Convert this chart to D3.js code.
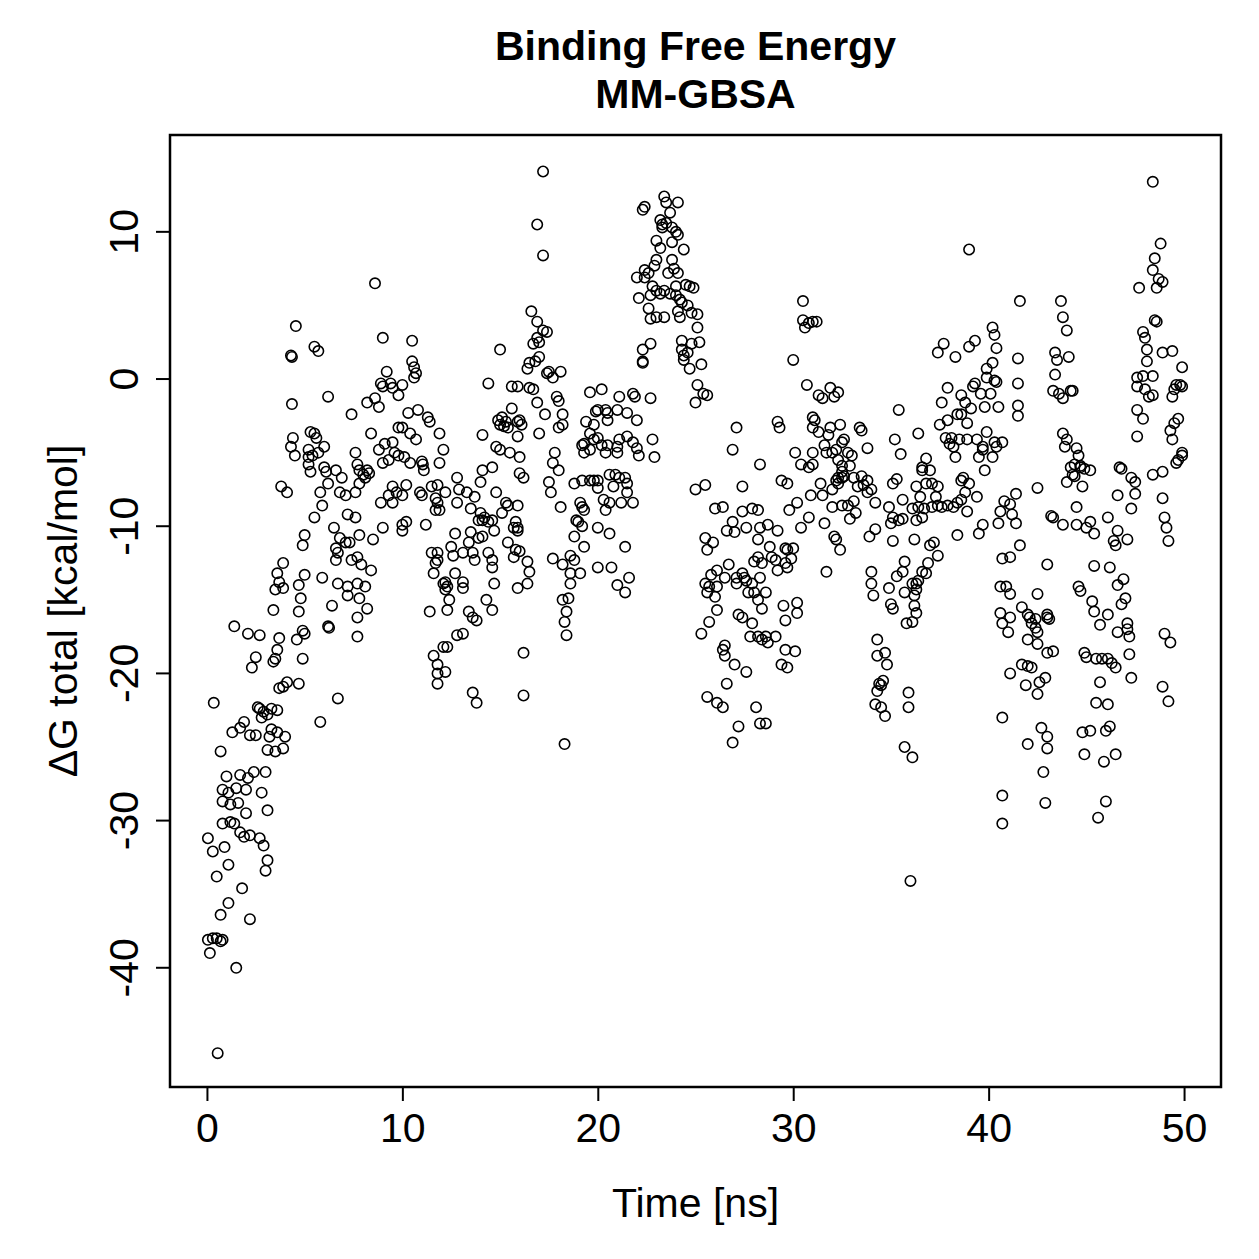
<!DOCTYPE html>
<html>
<head>
<meta charset="utf-8">
<script src="https://cdn.jsdelivr.net/npm/d3@7"></script>
<style>
  body { margin: 0; background: #fff; }
  text { font-family: "Liberation Sans", Arial, Helvetica, sans-serif; fill: #000; }
</style>
</head>
<body>
<svg id="chart" width="1259" height="1259"></svg>
<script>
// [time ns, dG kcal/mol], in 10 ns blocks
var seg00 = [[0.05,-31.2],[0.05,-38.1],[0.15,-39.0],[0.3,-38.0],[0.3,-32.1],[0.35,-22.0],[0.5,-38.0],[0.5,-33.8],[0.55,-45.8],[0.7,-38.2],[0.7,-36.4],[0.7,-25.3],[0.8,-38.1],[0.8,-27.9],[0.8,-28.7],[0.8,-30.2],[0.9,-31.8],[1.0,-27.0],[1.1,-28.1],[1.1,-33.0],[1.1,-35.6],[1.2,-28.9],[1.2,-30.1],[1.3,-24.0],[1.4,-16.8],[1.4,-30.2],[1.5,-27.8],[1.5,-40.0],[1.6,-28.8],[1.7,-26.9],[1.7,-23.7],[1.7,-30.8],[1.8,-34.6],[1.9,-23.3],[1.9,-31.1],[2.0,-27.9],[2.0,-29.5],[2.1,-17.3],[2.1,-27.1],[2.2,-24.2],[2.2,-31.0],[2.2,-36.7],[2.3,-19.6],[2.4,-26.7],[2.5,-18.9],[2.5,-24.2],[2.6,-22.3],[2.7,-22.4],[2.7,-17.4],[2.7,-31.2],[2.8,-23.0],[2.8,-28.1],[2.9,-22.6],[2.9,-31.7],[3.0,-26.7],[3.0,-33.4],[3.1,-22.8],[3.1,-25.2],[3.1,-29.3],[3.1,-32.7],[3.2,-24.3],[3.3,-23.8],[3.3,-22.4],[3.4,-19.2],[3.4,-15.7],[3.5,-19.0],[3.5,-14.3],[3.5,-25.3],[3.7,-17.6],[3.7,-21.0],[3.9,-20.9],[3.9,-25.1],
  [3.6,-13.2],[3.7,-13.8],[3.9,-12.5],[3.9,-14.2],[3.6,-18.4],[3.6,-22.5],[3.6,-24.0],[4.0,-24.3],[4.1,-20.6],[3.8,-7.3],[4.1,-7.7],
  [4.3,1.6],[4.35,1.5],[4.55,3.6],[4.35,-1.7],[4.4,-4.0],[4.3,-4.6],[4.5,-5.2],[4.9,-11.3],[5.0,-10.6],[5.0,-13.3],[4.7,-14.0],[4.8,-14.9],[4.7,-15.8],[4.9,-17.1],[5.0,-17.3],[4.6,-17.7],[4.9,-19.0],[4.7,-20.7],
  [5.5,2.2],[5.7,1.9],[5.3,-3.6],[5.5,-3.7],[5.6,-4.0],[5.2,-4.8],[5.2,-5.3],[5.4,-5.2],[5.7,-5.0],[6.0,-4.6],[5.2,-5.8],[5.3,-6.3],[6.0,-6.0],[6.1,-6.3],[6.6,-6.2],[6.9,-6.7],[5.8,-7.7],[6.2,-7.1],[5.9,-8.6],[5.5,-9.4],[5.9,-13.5],[5.8,-23.3],
  [6.2,-1.2],[6.8,-7.7],[7.1,-7.9],[6.5,-10.1],[6.8,-10.8],[7.1,-11.1],[7.3,-11.1],[6.6,-11.5],[6.7,-11.8],[6.6,-12.3],[6.7,-13.9],[6.4,-15.4],[6.2,-16.8],[6.25,-16.9],[6.7,-21.7],
  [7.4,-2.4],[7.6,-5.0],[7.8,-6.2],[8.0,-6.5],[7.6,-7.7],[7.2,-9.2],[7.6,-9.4],[7.8,-10.6],[7.4,-12.3],[7.9,-12.6],[7.2,-14.1],[7.7,-13.9],[7.2,-14.7],[7.8,-14.9],[7.7,-16.2],[7.7,-17.5],[7.7,-5.8],[7.8,-7.1],[7.7,-12.1],
  [8.2,-1.6],[8.6,6.5],[8.6,-1.3],[8.8,-1.9],[8.4,-3.7],[8.8,-4.8],[8.2,-6.2],[8.1,-6.7],[8.3,-6.4],[8.9,-8.4],[8.5,-10.9],[8.4,-13.0],[8.1,-14.1],[8.2,-15.6],[8.9,-0.3],[9.0,-0.5],[9.0,2.8],[9.2,0.5],[9.4,-0.3],[9.5,-0.6],[9.8,-1.1],[9.8,-3.3],[9.1,-4.4],[9.5,-4.3],[9.6,-5.0],[9.8,-5.2],[9.3,-5.5],[9.0,-5.7],[9.5,-7.3],[9.7,-7.7],[9.3,-7.9],[9.5,-8.4],[9.0,-10.1]];

var seg10 = [[10.0,-0.4],[10.5,2.6],[10.5,1.2],[10.6,0.8],[10.7,0.4],[10.6,0.1],[10.3,-2.3],[10.8,-2.1],[11.3,-2.6],[11.4,-2.9],[10.0,-3.3],[10.4,-3.7],[10.7,-4.1],[11.9,-3.7],[10.1,-5.3],[10.4,-5.7],[11.0,-5.6],[11.1,-6.2],[11.05,-5.8],[11.9,-5.7],[10.2,-7.2],[10.0,-7.9],[10.9,-7.7],[11.0,-7.9],[11.5,-7.3],[11.7,-8.1],[11.9,-8.9],[11.7,-8.9],[10.0,-9.9],[10.2,-9.7],[10.0,-10.3],[11.2,-9.9],[11.5,-11.8],[11.8,-11.8],[11.7,-12.5],[11.6,-13.2],[12.1,-13.9],[12.2,-14.3],[11.4,-15.8],[12.1,-18.2],[11.6,-18.8],[11.8,-19.4],[11.8,-20.0],
  [15.0,2.0],[14.4,-0.3],[15.6,-0.5],[15.6,-2.0],[14.9,-2.8],[15.1,-2.6],[15.3,-2.9],[15.2,-3.2],[15.4,-3.3],[15.0,-3.1],[15.9,-2.9],[15.9,-3.9],[14.8,-4.6],[15.0,-4.8],[15.5,-5.0],[14.1,-3.8],[16.0,-5.3],[16.0,-6.4],[16.2,-6.7],[12.1,-4.8],[12.8,-6.7],[14.1,-6.2],[14.6,-6.0],[14.0,-7.0],[11.8,-7.2],[12.2,-7.7],[11.8,-8.4],[12.9,-7.5],[13.3,-7.7],[13.7,-8.0],[12.8,-8.4],[13.5,-8.8],[14.8,-7.7],[15.3,-8.4],[15.4,-8.6],[15.1,-9.1],[15.8,-9.7],[15.7,-10.1],[15.4,-11.1],[14.0,-9.1],[14.1,-9.6],[14.4,-9.7],[13.9,-9.6],[14.2,-9.4],[14.6,-9.6],[14.7,-10.3],[12.7,-10.5],[13.5,-10.4],[13.4,-11.1],[13.9,-10.8],[14.1,-10.7],[12.5,-11.4],[11.8,-12.3],[12.6,-12.0],[13.1,-11.8],[13.6,-11.8],[13.7,-12.3],[14.4,-11.8],[14.6,-12.3],[14.6,-12.8],[14.7,-13.9],[15.8,-11.6],[15.7,-12.1],[12.2,-13.8],[12.3,-14.1],[13.1,-13.8],[13.1,-14.2],[12.7,-13.2],[12.4,-15.0],[12.3,-15.7],[14.3,-15.0],[14.6,-15.7],[15.9,-14.2],[13.4,-15.8],[13.6,-16.2],[13.8,-16.4],[12.8,-17.4],[13.1,-17.3],[12.3,-18.2],[16.2,-18.6],[12.2,-19.9],[11.8,-20.7],[13.6,-21.3],[13.8,-22.0],[16.2,-21.5],
  [17.2,14.1],[16.9,10.5],[17.2,8.4],[16.6,4.6],[16.9,3.9],[17.2,3.3],[17.4,3.2],[16.9,2.8],[16.7,2.4],[17.0,2.5],[16.5,1.1],[16.4,0.7],[16.8,1.2],[17.0,1.5],[17.5,0.5],[17.7,0.1],[18.1,0.5],[17.4,0.4],[16.5,-0.6],[16.7,-0.7],[16.9,-1.6],[17.3,-2.4],[17.9,-1.2],[18.0,-1.5],[18.2,-2.4],[18.2,-3.1],[18.0,-3.3],[15.9,-0.5],[16.0,-2.8],[16.1,-3.1],[17.0,-3.7],[17.8,-5.0],[17.7,-5.7],[18.0,-6.2],[17.5,-7.0],[17.6,-7.7],[18.1,-8.7],[15.9,-8.6],[15.9,-10.1],[15.9,-10.3],[16.0,-11.7],[16.4,-12.4],[16.5,-13.1],[16.4,-13.9],[17.7,-12.2],[18.2,-12.6],[18.6,-12.0],[18.8,-12.3],[18.6,-13.2],[19.1,-13.2],[18.6,-13.9],[18.2,-15.0],[18.5,-14.9],[18.4,-15.8],[18.3,-16.5],[18.4,-17.4],[18.3,-24.8],
  [19.6,-0.9],[19.9,-2.2],[19.4,-2.9],[19.8,-3.1],[19.6,-3.7],[19.2,-4.5],[19.3,-4.4],[19.8,-4.1],[19.6,-4.8],[19.3,-5.0],[18.8,-7.1],[19.2,-6.9],[19.6,-6.9],[19.8,-6.9],[19.1,-8.4],[19.2,-8.7],[19.3,-8.9],[18.9,-9.6],[19.0,-9.7],[19.2,-10.0],[18.8,-10.7],[19.3,-11.4]];

var seg20 = [[22.3,11.5],[22.4,11.7],[23.4,12.4],[23.5,12.0],[23.7,11.3],[24.1,12.0],[23.2,10.8],[23.3,10.5],[23.3,10.3],[23.5,10.6],[23.8,10.3],[24.0,10.0],[23.0,9.4],[23.2,8.9],[23.8,9.3],[24.1,9.8],[24.4,8.8],[23.0,8.1],[22.9,7.7],[23.8,8.1],[23.9,7.5],[23.6,7.2],[24.1,7.2],[22.4,7.4],[22.6,7.2],[22.0,6.9],[22.4,6.9],[22.8,6.3],[23.0,6.0],[23.2,5.8],[22.7,5.7],[22.1,5.5],[23.4,6.0],[23.7,5.8],[24.0,6.3],[24.0,5.7],[24.3,5.2],[22.6,4.8],[22.7,4.1],[23.0,4.2],[23.4,4.2],[24.1,4.6],[24.2,4.2],[22.7,2.4],[22.3,2.0],[22.3,1.2],[22.3,1.1],[24.3,2.6],[24.4,1.6],[24.4,1.3],
  [20.2,-0.7],[21.1,-1.2],[21.8,-1.0],[21.9,-1.2],[22.7,-1.3],[20.0,-2.1],[20.4,-2.1],[20.5,-2.8],[20.5,-2.3],[21.0,-2.1],[21.5,-2.3],[22.0,-2.8],[20.0,-4.0],[20.2,-4.5],[20.5,-4.5],[21.0,-4.6],[21.1,-4.1],[21.5,-3.9],[21.8,-4.3],[22.0,-4.7],[22.1,-5.2],[22.8,-4.1],[22.9,-5.3],[21.0,-5.0],[20.4,-5.0],[20.0,-6.9],[20.0,-7.4],[20.6,-6.5],[20.9,-6.5],[21.1,-6.7],[21.4,-6.7],[21.5,-7.1],[20.8,-7.3],[21.5,-7.7],[21.2,-8.4],[21.8,-8.4],[20.3,-8.2],[20.4,-8.9],[20.6,-8.4],[20.0,-10.1],[20.6,-10.5],[21.4,-11.4],[20.0,-12.8],[20.7,-12.8],[21.0,-14.0],[21.4,-14.5],[21.6,-13.5],
  [24.5,6.4],[24.7,6.3],[24.9,6.2],[24.2,5.4],[24.6,5.0],[24.8,4.5],[25.1,4.4],
  [25.1,3.5],[24.8,2.4],[25.2,2.5],[24.3,2.0],[24.6,1.8],[24.7,0.7],[25.3,1.0],[25.1,-0.4],[25.6,-1.1],[25.0,-1.6],[25.4,-1.0],[27.1,-3.3],[26.9,-4.8],[25.0,-7.5],[25.5,-7.2],[27.4,-7.3],[26.0,-8.8],[26.4,-8.7],[27.4,-9.0],[27.9,-8.8],[26.9,-9.7],[26.6,-10.3],[27.0,-10.4],[27.6,-10.1],[25.5,-10.8],[25.9,-11.1],[25.6,-11.6],[26.7,-12.6],[28.0,-12.4],[25.8,-13.3],[26.1,-13.0],[26.5,-13.5],[27.1,-13.5],[27.4,-13.2],[27.5,-13.5],[27.9,-13.9],[25.5,-13.9],[25.7,-14.1],[26.1,-14.1],[27.1,-13.9],[27.6,-13.7],[25.6,-14.5],[26.0,-14.8],[26.1,-15.7],[25.7,-16.5],[25.3,-17.3],[27.7,-14.5],[28.0,-14.5],[27.9,-16.6],[27.2,-16.0],[27.4,-16.2],[27.8,-17.5],[28.4,-17.7],[26.5,-18.1],[26.4,-18.4],[26.5,-18.8],[27.0,-19.4],[27.6,-19.9],[26.6,-20.7],[25.6,-21.6],[26.1,-22.0],[26.4,-22.3],[27.2,-23.6],[26.9,-24.7],
  [29.2,-2.9],[29.3,-3.3],[28.3,-5.8],[29.4,-6.9],[29.7,-7.1],[29.8,-8.9],[28.2,-8.9],[28.3,-10.1],[28.2,-10.9],[28.7,-9.9],[29.2,-10.3],[28.2,-12.1],[28.4,-12.5],[28.8,-11.4],[28.9,-12.1],[29.1,-12.3],[29.2,-13.0],[29.6,-11.5],[29.7,-11.6],[29.9,-12.2],[29.6,-12.5],[29.7,-12.8],[28.3,-13.5],[28.6,-14.5],[28.2,-15.0],[28.4,-15.6],[29.5,-15.4],[29.6,-16.4],[28.2,-17.5],[28.6,-17.5],[28.7,-17.9],[29.1,-17.5],[29.6,-18.4],[29.4,-19.4],[29.7,-19.6],[28.1,-22.3],[28.3,-23.4],[28.6,-23.4]];

var seg30 = [[30.5,5.3],[30.5,4.0],[30.8,3.8],[31.0,3.9],[30.6,3.5],[31.2,3.9],[30.0,1.3],[30.7,-0.4],[31.3,-1.1],[31.5,-1.3],[31.9,-0.6],[32.1,-1.2],[32.3,-0.9],[31.0,-2.6],[31.1,-2.8],[31.0,-3.3],[31.3,-3.6],[31.9,-3.3],[31.8,-3.8],[32.4,-3.1],[31.6,-4.5],[31.7,-5.0],[32.0,-5.0],[32.3,-5.5],[32.5,-4.3],[30.1,-5.0],[30.4,-5.8],[31.0,-5.0],[31.0,-5.8],[30.8,-6.0],[31.4,-7.1],[31.5,-7.9],[30.9,-7.9],[32.2,-6.9],[32.0,-7.5],[32.5,-6.3],[32.5,-6.7],[32.3,-7.1],[30.2,-8.4],[30.8,-9.4],[30.4,-10.1],[32.0,-8.7],[31.6,-9.8],[32.1,-10.7],[32.4,-11.6],[31.7,-13.1],[30.0,-11.5],[30.2,-15.2],[30.2,-15.9],[30.1,-18.5],
  [35.4,-2.1],[33.4,-3.3],[33.5,-3.5],[32.6,-4.1],[33.8,-4.7],[35.2,-4.1],[35.5,-5.1],[36.4,-3.7],[32.2,-4.8],[32.8,-5.0],[33.0,-5.2],[32.5,-5.9],[32.9,-5.9],[32.3,-6.7],[32.6,-6.6],[33.1,-6.7],[33.5,-6.6],[33.8,-6.9],[33.6,-7.2],[33.3,-7.3],[34.0,-7.5],[33.8,-7.7],[34.2,-8.4],[33.1,-8.3],[32.8,-8.6],[32.5,-8.6],[33.2,-9.1],[32.9,-9.5],[35.1,-7.1],[35.3,-6.8],[35.6,-8.2],[34.9,-8.7],[35.1,-9.4],[35.0,-9.8],[35.4,-9.6],[35.6,-9.5],[35.1,-11.0],[33.9,-10.7],[34.2,-10.2],[36.1,-8.8],[36.2,-10.9],[36.6,-6.0],[32.2,-10.9],[34.0,-13.1],[34.0,-13.9],[34.1,-14.7],[34.9,-14.2],[35.0,-15.3],[35.1,-15.6],[35.3,-13.4],[35.6,-13.1],[35.7,-12.4],[35.7,-14.5],[36.1,-13.9],[36.3,-13.9],[36.2,-14.7],[36.2,-15.4],[35.8,-16.6],[36.1,-16.5],[36.6,-13.1],[34.3,-17.7],[34.3,-18.8],[34.7,-18.6],[34.8,-19.4],[34.4,-20.7],[34.5,-20.8],[34.6,-20.5],[34.3,-21.2],[34.2,-22.1],[34.5,-22.3],[34.7,-22.9],[35.9,-21.3],[35.9,-22.3],[35.7,-25.0],[36.1,-25.7],[36.0,-34.1],
  [39.0,8.8],[37.7,2.4],[37.4,1.8],[38.3,1.5],[39.0,2.2],[39.3,2.6],[39.9,0.7],[39.9,0.1],[39.3,-0.3],[39.2,-0.5],[39.6,-1.0],[39.8,-1.9],[37.9,-0.6],[37.6,-1.6],[38.6,-1.1],[38.8,-1.6],[39.1,-2.0],[38.6,-2.4],[37.5,-3.1],[37.9,-2.8],[38.4,-2.4],[38.9,-3.0],[37.8,-4.0],[38.0,-4.4],[38.2,-4.6],[38.1,-4.0],[38.5,-4.1],[38.9,-4.1],[39.4,-4.1],[39.7,-4.6],[39.9,-3.6],[39.7,-4.8],[39.5,-5.3],[39.8,-6.2],[38.3,-5.3],[36.8,-5.4],[36.6,-6.2],[37.0,-6.2],[36.8,-7.1],[37.1,-7.1],[37.4,-7.3],[37.3,-8.0],[36.3,-7.3],[36.5,-8.0],[36.4,-8.7],[36.7,-8.8],[37.1,-8.7],[37.4,-8.6],[37.6,-8.7],[36.6,-9.4],[36.3,-9.6],[37.9,-8.6],[38.2,-8.7],[38.4,-8.4],[38.6,-8.2],[38.8,-7.7],[39.0,-7.1],[38.7,-6.7],[38.6,-6.9],[38.9,-9.0],[39.4,-8.0],[39.7,-9.9],[39.5,-10.5],[38.4,-10.6],[37.2,-11.1],[37.0,-11.3],[37.4,-12.0],[36.9,-12.5],[36.8,-13.2],[36.4,-13.7],[36.3,-14.3],[36.3,-15.9]];

var seg40 = [[40.2,3.5],[40.3,3.0],[40.4,2.1],[40.2,1.1],[40.3,-0.1],[40.1,-1.0],[40.4,-0.2],[40.5,-1.9],[40.2,-5.3],[40.3,-4.3],[40.7,-4.3],[40.5,-9.8],[40.6,-14.1],[40.6,-15.9],[40.7,-16.6],[40.7,-12.2],[40.7,-23.0],
  [41.6,5.3],[43.7,5.3],[43.8,4.2],[44.0,3.3],[41.5,1.4],[41.5,-0.3],[41.5,-1.8],[41.5,-2.5],[43.4,1.8],[43.5,1.3],[44.1,1.5],[43.4,0.3],[43.3,-0.8],[43.6,-1.0],[43.8,-1.3],[44.2,-0.8],[44.3,-0.8],[43.8,-3.7],[44.0,-4.1],[43.9,-4.6],[44.6,-5.2],[44.4,-5.8],[44.2,-6.0],[44.7,-5.9],[44.3,-6.5],[44.4,-6.6],[44.0,-7.0],[40.4,-4.6],[42.5,-7.4],[41.4,-7.8],[40.8,-8.3],[41.1,-8.5],[41.2,-9.2],[41.4,-9.8],[40.6,-9.0],[43.2,-9.3],[43.3,-9.4],[43.8,-9.9],[44.5,-9.9],[41.6,-11.3],[41.1,-12.1],[43.0,-12.6],[40.9,-14.1],[41.1,-14.6],[42.5,-14.6],[44.7,-14.4],[41.1,-16.2],[41.0,-17.2],[41.7,-15.5],[42.0,-16.0],[42.1,-16.2],[42.2,-16.6],[42.4,-16.3],[42.4,-16.9],[42.5,-17.2],[43.0,-16.0],[43.1,-16.3],[43.0,-16.2],[42.0,-17.7],[42.5,-18.0],[43.0,-18.6],[43.3,-18.5],[41.7,-19.4],[42.0,-19.5],[42.2,-19.6],[41.1,-20.0],[41.9,-20.8],[42.6,-20.6],[42.9,-20.3],[42.5,-21.4],[42.7,-23.7],[42.0,-24.8],[43.0,-25.1],[43.0,-24.3],[42.8,-26.7],[40.7,-28.3],[40.7,-30.2],[42.9,-28.8],[44.8,-24.0],
  [48.4,13.4],[48.8,9.2],[48.5,8.2],[48.4,7.4],[48.7,6.8],[48.9,6.6],[48.6,6.2],[47.7,6.2],[48.5,4.0],[48.6,3.9],[47.9,3.2],[48.0,2.8],[48.1,2.0],[48.9,1.8],[49.4,1.9],[48.1,1.2],[49.9,0.8],[47.6,0.1],[47.9,0.2],[48.4,0.2],[47.6,-0.5],[48.0,-0.7],[48.2,-1.2],[48.4,-1.1],[49.6,-0.4],[49.8,-0.4],[49.9,-0.5],[49.5,-0.7],[49.4,-1.2],[47.6,-2.1],[47.9,-2.7],[47.6,-3.9],[49.7,-2.7],[49.5,-3.0],[49.3,-3.5],[49.4,-4.1],[49.9,-5.0],[49.9,-5.2],[49.7,-5.5],[49.6,-5.7],[48.4,-6.5],[48.9,-6.3],[46.7,-6.0],[46.8,-6.1],[47.3,-6.7],[47.5,-7.0],[46.6,-7.9],[47.5,-7.8],[47.3,-8.8],[48.9,-8.1],[49.0,-9.4],[49.1,-10.1],[49.2,-11.0],
  [44.5,-4.7],[44.7,-6.0],[44.9,-6.1],[45.2,-6.2],[44.8,-7.3],[44.5,-8.7],[45.2,-9.7],[45.0,-10.1],[45.4,-10.5],[46.1,-9.4],[46.6,-10.3],[46.4,-11.0],[46.5,-11.3],[47.1,-10.9],[45.4,-12.7],[46.2,-12.8],[46.9,-13.6],[46.6,-14.0],[47.0,-14.9],[46.8,-15.3],[44.6,-14.1],[45.3,-15.1],[45.4,-15.8],[46.1,-16.0],[45.7,-16.7],[46.6,-17.2],[47.1,-16.6],[47.1,-17.0],[47.2,-17.5],[49.0,-17.3],[49.3,-17.9],[44.9,-18.6],[45.0,-18.9],[45.5,-19.0],[45.8,-19.0],[46.1,-19.0],[46.3,-19.3],[46.5,-19.6],[47.2,-18.7],[45.7,-20.6],[47.3,-20.3],[48.9,-20.9],[49.2,-21.9],[45.5,-22.0],[46.1,-22.1],[45.2,-23.9],[46.0,-23.9],[46.2,-23.6],[44.9,-25.5],[45.9,-26.0],[46.5,-25.5],[46.0,-28.7],[45.6,-29.8]];

var xTicks = [0, 10, 20, 30, 40, 50];
var yTicks = [-40, -30, -20, -10, 0, 10];
var mainTitle = ["Binding Free Energy", "MM-GBSA"];
var xLabel = "Time [ns]";
var yLabel = "\u0394G total [kcal/mol]";

var samples = [].concat(seg00, seg10, seg20, seg30, seg40);

var svg = d3.select("#chart");
var box = {left: 170, right: 1221, top: 135, bottom: 1087};
var fontSize = 41;
var tickLen = 14;

var x = d3.scaleLinear().domain([-1.89, 51.89]).range([box.left, box.right]);
var y = d3.scaleLinear().domain([-48.1, 16.58]).range([box.bottom, box.top]);

svg.append("rect").attr("width", 1259).attr("height", 1259).attr("fill", "#fff");

// points
svg.append("g")
    .selectAll("circle")
    .data(samples)
    .enter().append("circle")
    .attr("cx", function (d) { return x(d[0]); })
    .attr("cy", function (d) { return y(d[1]); })
    .attr("r", 5.2)
    .attr("fill", "none")
    .attr("stroke", "#000")
    .attr("stroke-width", 1.6);

// x axis
var xAxis = d3.axisBottom(x).tickValues(xTicks).tickSize(tickLen).tickPadding(12).tickFormat(d3.format("d"));
var gx = svg.append("g").attr("transform", "translate(0," + box.bottom + ")").call(xAxis);
gx.select(".domain").remove();
gx.selectAll(".tick line").attr("stroke", "#000").attr("stroke-width", 2);
gx.selectAll(".tick text").attr("font-size", fontSize).attr("font-family", "Liberation Sans, Arial, sans-serif").attr("fill", "#000");

// y axis, labels turned like the original
var gy = svg.append("g").attr("transform", "translate(" + box.left + ",0)");
gy.selectAll("line").data(yTicks).enter().append("line")
    .attr("x1", 0).attr("x2", -tickLen)
    .attr("y1", function (d) { return y(d); }).attr("y2", function (d) { return y(d); })
    .attr("stroke", "#000").attr("stroke-width", 2);
gy.selectAll("text").data(yTicks).enter().append("text")
    .attr("transform", function (d) { return "translate(-32," + y(d) + ") rotate(-90)"; })
    .attr("text-anchor", "middle")
    .attr("font-size", fontSize)
    .text(function (d) { return d; });

// frame
svg.append("rect")
    .attr("x", box.left).attr("y", box.top)
    .attr("width", box.right - box.left).attr("height", box.bottom - box.top)
    .attr("fill", "none").attr("stroke", "#000").attr("stroke-width", 2.5);

// titles
var cx = (box.left + box.right) / 2;
svg.append("text").attr("x", cx).attr("y", 60).attr("text-anchor", "middle")
    .attr("font-size", fontSize).attr("font-weight", "bold").text(mainTitle[0]);
svg.append("text").attr("x", cx).attr("y", 108).attr("text-anchor", "middle")
    .attr("font-size", fontSize).attr("font-weight", "bold").text(mainTitle[1]);
svg.append("text").attr("x", cx).attr("y", 1217).attr("text-anchor", "middle")
    .attr("font-size", fontSize).text(xLabel);
svg.append("text")
    .attr("transform", "translate(77," + ((box.top + box.bottom) / 2) + ") rotate(-90)")
    .attr("text-anchor", "middle")
    .attr("font-size", fontSize).text(yLabel);
</script>
</body>
</html>
